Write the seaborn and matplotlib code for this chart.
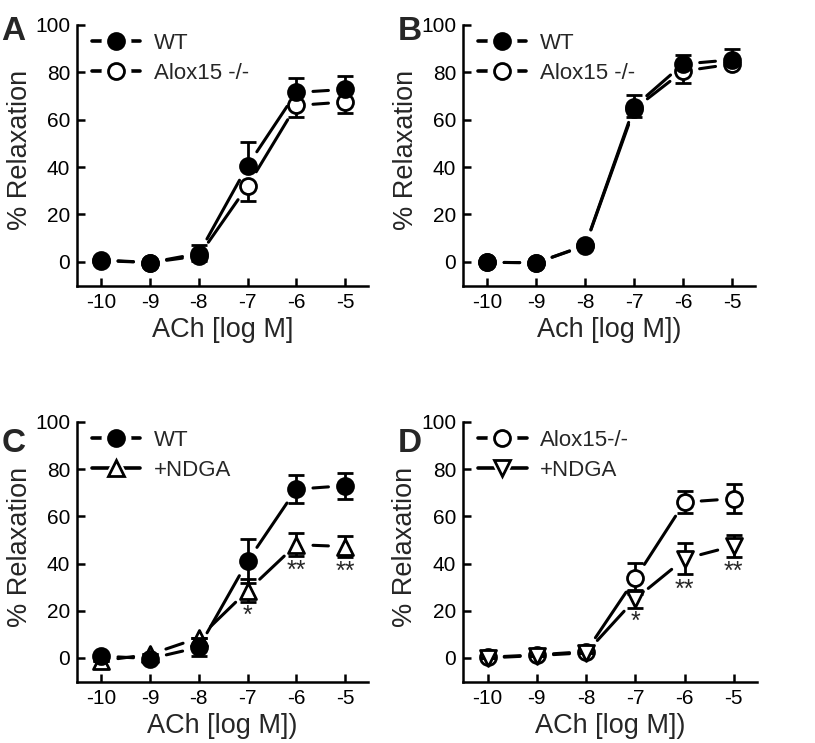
import numpy as np
import matplotlib
matplotlib.use("Agg")
import matplotlib.pyplot as plt
import seaborn as sns
from matplotlib.lines import Line2D
from matplotlib.patches import FancyArrowPatch
from matplotlib.legend_handler import HandlerTuple

# ---- data ----
log_ach = [-10, -9, -8, -7, -6, -5]
tick_labels = ["-10", "-9", "-8", "-7", "-6", "-5"]

# A
wt_a = [0.8, -0.3, 3.5, 40.6, 71.5, 72.8]
wt_a_sem = [0, 0, 3.5, 9.8, 6.0, 5.8]
ko_a = [0.5, -0.3, 2.5, 32.0, 66.0, 67.5]
ko_a_sem = [0, 0, 2.0, 6.5, 5.0, 4.5]

# B
wt_b = [-0.2, -0.4, 7.0, 65.5, 83.5, 85.3]
wt_b_sem = [0, 0, 0, 5.0, 4.0, 4.4]
ko_b = [-0.2, -0.4, 6.8, 64.5, 80.5, 83.5]
ko_b_sem = [0, 0, 0, 3.2, 4.8, 1.0]

# C
wt_c = [0.8, -0.3, 4.5, 41.0, 71.5, 73.0]
wt_c_sem = [0, 0, 3.8, 9.3, 6.0, 5.5]
ndga_c = [-1.2, 1.5, 8.5, 28.5, 48.0, 47.2]
ndga_c_sem = [0, 0, 0, 5.0, 5.0, 4.4]
stars_c = ["", "", "", "*", "**", "**"]
stars_c_y = [0, 0, 0, 18.0, 37.0, 36.6]

# D
ko_d = [0.3, 1.3, 2.7, 33.7, 66.0, 67.5]
ko_d_sem = [0, 0, 0, 6.7, 4.7, 6.0]
ndga_d = [0.0, 1.0, 2.2, 25.0, 42.0, 47.5]
ndga_d_sem = [0, 0, 0, 3.7, 6.6, 4.6]
stars_d = ["", "", "", "*", "**", "**"]
stars_d_y = [0, 0, 0, 15.4, 29.0, 36.6]

sns.set_style("ticks")
plt.rcParams["font.family"] = ["Liberation Sans", "DejaVu Sans"]
plt.rcParams["axes.unicode_minus"] = False

LW = 2.2
MS = 11.5


def draw_series(ax, y, sem, marker, face, err_mode, z):
    # connecting segments, shortened so they stop short of the markers
    for i in range(len(log_ach) - 1):
        seg = FancyArrowPatch((log_ach[i], y[i]), (log_ach[i + 1], y[i + 1]),
                              arrowstyle="-", shrinkA=12, shrinkB=12,
                              lw=LW, color="black", zorder=z)
        ax.add_patch(seg)
    sem = np.array(sem)
    zero = np.zeros_like(sem)
    if err_mode == "upper":
        yerr = [zero, sem]
    elif err_mode == "lower":
        yerr = [sem, zero]
    else:
        yerr = [sem, sem]
    ax.errorbar(log_ach, y, yerr=yerr, fmt="none", ecolor="black",
                elinewidth=2, capsize=5.5, capthick=2, zorder=z + 0.5)
    sns.scatterplot(x=log_ach, y=y, ax=ax, marker=marker, s=MS ** 2,
                    color=face, edgecolor="black", linewidth=2, zorder=z + 1)


def legend_handle(marker, face):
    line = Line2D([], [], color="black", lw=2.6)
    halo = Line2D([], [], ls="", marker=marker, ms=MS + 9,
                  mfc="white", mec="white")
    mark = Line2D([], [], ls="", marker=marker, ms=MS, mfc=face,
                  mec="black", mew=2)
    return (line, halo, mark)


def style_axes(ax, xlabel):
    ax.set_xlim(-10.5, -4.53)
    ax.set_ylim(-10.2, 100)
    ax.set_xticks(log_ach)
    ax.set_xticklabels(tick_labels)
    ax.set_yticks([0, 20, 40, 60, 80, 100])
    ax.tick_params(direction="in", length=6, width=1.8, labelsize=15,
                   pad=5, colors="black")
    for side in ["left", "bottom"]:
        ax.spines[side].set_linewidth(1.8)
        ax.spines[side].set_color("black")
    sns.despine(ax=ax)
    ax.set_xlabel(xlabel, fontsize=19.5, labelpad=4)
    ax.set_ylabel("% Relaxation", fontsize=19.5)
    ax.yaxis.set_label_coords(-0.152, 0.52)


fig = plt.figure(figsize=(8.15, 7.43), dpi=100)
ax_a = fig.add_axes([0.0945, 0.6151, 0.357, 0.3513])
ax_b = fig.add_axes([0.5681, 0.6151, 0.3583, 0.3513])
ax_c = fig.add_axes([0.0945, 0.0821, 0.357, 0.35])
ax_d = fig.add_axes([0.5681, 0.0821, 0.3607, 0.35])

panels = [
    (ax_a, "ACh [log M]", [(ko_a, ko_a_sem, "o", "white", "lower"),
                           (wt_a, wt_a_sem, "o", "black", "upper")],
     [("o", "black", "WT"), ("o", "white", "Alox15 -/-")], None, None),
    (ax_b, "Ach [log M])", [(ko_b, ko_b_sem, "o", "white", "lower"),
                            (wt_b, wt_b_sem, "o", "black", "upper")],
     [("o", "black", "WT"), ("o", "white", "Alox15 -/-")], None, None),
    (ax_c, "ACh [log M])", [(ndga_c, ndga_c_sem, "^", "white", "both"),
                            (wt_c, wt_c_sem, "o", "black", "both")],
     [("o", "black", "WT"), ("^", "white", "+NDGA")], stars_c, stars_c_y),
    (ax_d, "ACh [log M])", [(ko_d, ko_d_sem, "o", "white", "both"),
                            (ndga_d, ndga_d_sem, "v", "white", "both")],
     [("o", "white", "Alox15-/-"), ("v", "white", "+NDGA")], stars_d, stars_d_y),
]

for ax, xlabel, series, leg, stars, stars_y in panels:
    for k, (y, sem, m, face, mode) in enumerate(series):
        draw_series(ax, y, sem, m, face, mode, z=3 + 3 * k)
    style_axes(ax, xlabel)
    handles = [legend_handle(m, f) for m, f, _ in leg]
    labels = [lab for _, _, lab in leg]
    ax.legend(handles=handles, labels=labels, loc="upper left",
              bbox_to_anchor=(0.05, 0.97), frameon=False, fontsize=16,
              handlelength=2.2, handletextpad=0.6, labelspacing=0.42,
              borderpad=0, borderaxespad=0,
              handler_map={tuple: HandlerTuple(ndivide=1)})
    if stars is not None:
        for xv, s, yv in zip(log_ach, stars, stars_y):
            if s:
                ax.text(xv, yv, s, ha="center", va="center", fontsize=18)

for letter, (xf, yf) in zip("ABCD", [(0.002, 0.946), (0.488, 0.946),
                                     (0.002, 0.392), (0.488, 0.392)]):
    fig.text(xf, yf, letter, fontsize=24, fontweight="bold", va="baseline",
             ha="left")

fig.savefig("out.png", dpi=100)
